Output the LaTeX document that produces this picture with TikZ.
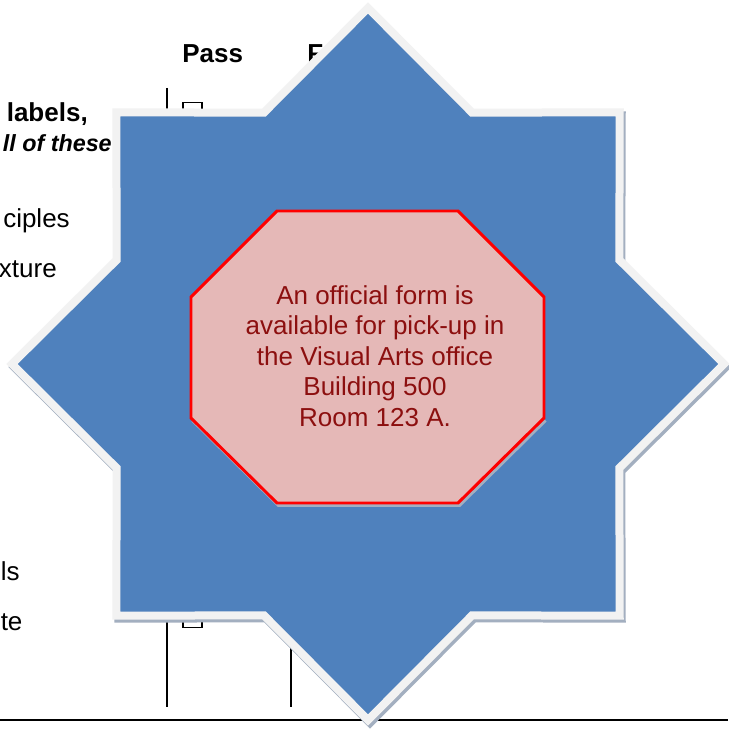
\documentclass[tikz,border=0pt]{standalone}
\usepackage{fontspec}
\setmainfont{Liberation Sans}
\definecolor{starblue}{HTML}{4F81BD}
\definecolor{starwhite}{HTML}{F2F2F2}
\definecolor{starshade}{HTML}{A3AFC0}
\definecolor{notepink}{HTML}{E5B8B7}
\definecolor{notered}{HTML}{8C0F0F}

\begin{document}
\begin{tikzpicture}
[x=0.75pt,y=-0.75pt,%
  every node/.style={inner sep=0pt,font=\fontsize{19.5}{23}\selectfont},%
  bold/.style={font=\bfseries\fontsize{19.5}{23}\selectfont},%
  rule/.style={line width=1pt},%
  checkbox/.style={draw,line width=1.1pt,minimum width=14pt,minimum height=16pt},%
  starbody/.style={fill=starblue,draw=starwhite,line width=6pt,line join=miter},%
  starshadow/.style={fill=starshade,draw=starshade,line width=6pt,line join=miter},%
  notebox/.style={fill=notepink,draw=red,line width=2.2pt,line join=miter},%
  notetext/.style={text=notered,align=center,font=\fontsize{19.5}{22.9}\selectfont}]
\useasboundingbox (0,0) rectangle (728,730);
\fill[white] (0,0) rectangle (728,730);
\node[bold,anchor=base west] (pass) at (182,63) {Pass};
\node[bold,anchor=base west] (fail) at (307,63) {F};
\node[bold,anchor=base east] (labels) at (88,122) {labels,};
\node[anchor=base east,font=\bfseries\itshape\fontsize{17.5}{21}\selectfont] (these) at (112,152) {ll of these};
\node[anchor=base east] (ciples) at (70,228) {ciples};
\node[anchor=base east] (xture) at (57,278) {xture};
\node[anchor=base west] (ls) at (0.5,580) {ls};
\node[anchor=base west] (te) at (0.5,630) {te};
\coordinate (passtop) at (167,88);
\coordinate (passbot) at (167,707);
\coordinate (failtop) at (291,88);
\coordinate (failbot) at (291,707);
\coordinate (pageleft) at (0,720);
\coordinate (pageright) at (728,720);
\draw[rule] (passtop) -- (passbot);
\draw[rule] (failtop) -- (failbot);
\draw[rule,line width=2.2pt] (pageleft) -- (pageright);
\node[checkbox] (boxtop) at (192.5,113) {};
\node[checkbox] (boxbot) at (192.5,617) {};
\begin{scope}[shift={(370,367)}]
  \filldraw[starshadow] (0:356)
    \foreach \a in {45,90,...,360} { -- (\a-22.5:272) -- (\a:356) } -- cycle;
\end{scope}
\begin{scope}[shift={(368,364)}]
  \filldraw[starbody] (0:356)
    \foreach \a in {45,90,...,360} { -- (\a-22.5:272) -- (\a:356) } -- cycle;
\end{scope}
\draw[starshade,line width=2.2pt,line join=miter,shift={(1.5,2.5)}]
  (544,418) -- (458,503) -- (277,503) -- (191,418);
\filldraw[notebox] (277,211) -- (458,211) -- (544,297) -- (544,418)
  -- (458,503) -- (277,503) -- (191,418) -- (191,297) -- cycle;
\node[notetext] (note) at (375,356) {An official form is\\available for pick-up in\\the Visual Arts office\\Building 500\\Room 123 A.};
\end{tikzpicture}
\end{document}
